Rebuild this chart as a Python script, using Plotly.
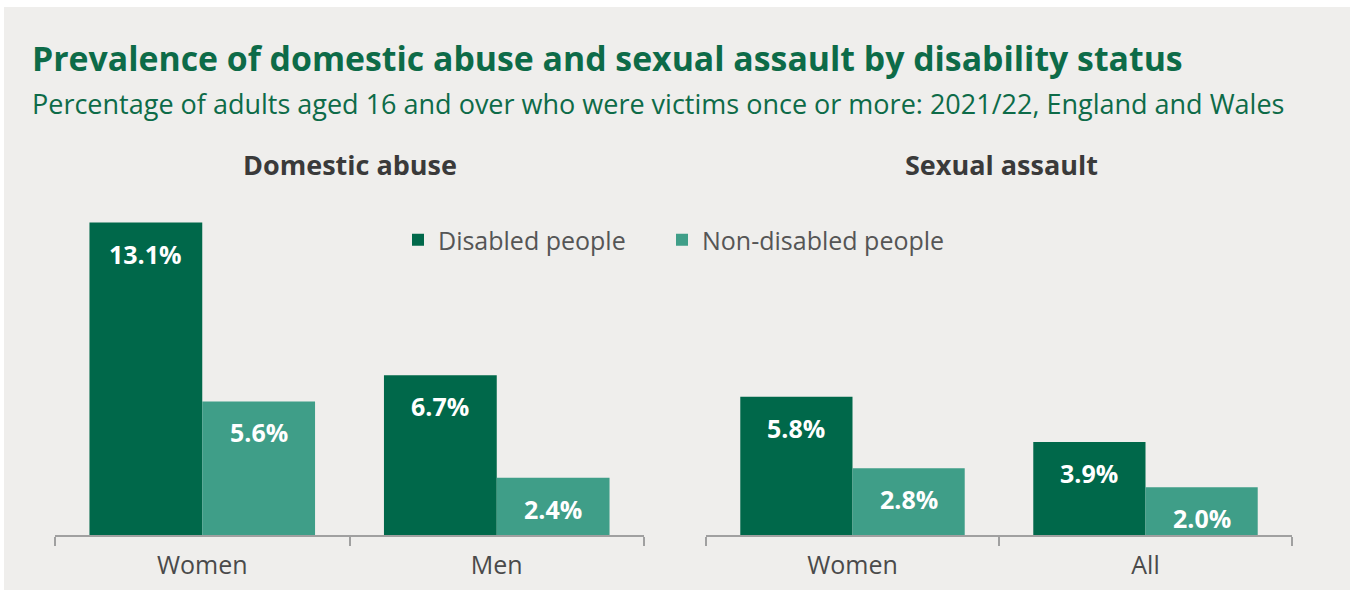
import plotly.graph_objects as go

# Survey figures, % of adults aged 16+ who were victims once or more (2021/22)
domestic_categories = ["Women", "Men"]
domestic_disabled = [13.1, 6.7]
domestic_non_disabled = [5.6, 2.4]

sexual_categories = ["Women", "All"]
sexual_disabled = [5.8, 3.9]
sexual_non_disabled = [2.8, 2.0]

series_names = ["Disabled people", "Non-disabled people"]
panel_titles = ["Domestic abuse", "Sexual assault"]

title_text = "Prevalence of domestic abuse and sexual assault by disability status"
subtitle_text = ("Percentage of adults aged 16 and over who were victims once or more: "
                 "2021/22, England and Wales")

W, H = 1354, 590
DARK = "#00684a"
LIGHT = "#3f9e88"
BG = "#efeeec"
TITLE_GREEN = "#0d6b48"
GREY_TEXT = "#4a4a4a"
FONT = "Open Sans"

fig = go.Figure()

panels = [
    ("x", "y", domestic_categories, domestic_disabled, domestic_non_disabled, True),
    ("x2", "y2", sexual_categories, sexual_disabled, sexual_non_disabled, False),
]
for xa, ya, cats, dis, nondis, show in panels:
    fig.add_trace(go.Bar(x=cats, y=dis, name=series_names[0], marker_color=DARK,
                         marker_line_width=0, xaxis=xa, yaxis=ya, showlegend=show,
                         legend="legend", hoverinfo="skip"))
    fig.add_trace(go.Bar(x=cats, y=nondis, name=series_names[1], marker_color=LIGHT,
                         marker_line_width=0, xaxis=xa, yaxis=ya, showlegend=show,
                         legend="legend2", hoverinfo="skip"))

# value labels just inside the top of each bar
BAR_PX = 113
for xa, ya, cats, dis, nondis, _ in panels:
    for vals, shift in ((dis, -BAR_PX / 2), (nondis, BAR_PX / 2)):
        for c, v in zip(cats, vals):
            fig.add_annotation(x=c, y=v, xref=xa, yref=ya, text=f"<b>{v:.1f}%</b>",
                               showarrow=False, yanchor="top", yshift=-12, xshift=shift,
                               font=dict(family=FONT, size=25, color="white"))

# background panel
fig.add_shape(type="rect", xref="paper", yref="paper",
              x0=4 / W, x1=1350 / W, y0=0, y1=1 - 7 / H,
              fillcolor=BG, line_width=0, layer="below")

def px_x(p):
    return p / W

def px_y(p):
    return 1 - p / H

# titles
fig.add_annotation(xref="paper", yref="paper", x=px_x(30), y=px_y(58), xanchor="left",
                   yanchor="middle", showarrow=False, text=f"<b>{title_text}</b>",
                   font=dict(family=FONT, size=33.8, color=TITLE_GREEN))
fig.add_annotation(xref="paper", yref="paper", x=px_x(30), y=px_y(103), xanchor="left",
                   yanchor="middle", showarrow=False, text=subtitle_text,
                   font=dict(family=FONT, size=27, color=TITLE_GREEN))
for cx, t in zip((350, 1001), panel_titles):
    fig.add_annotation(xref="paper", yref="paper", x=px_x(cx), y=px_y(165), xanchor="center",
                       yanchor="middle", showarrow=False, text=f"<b>{t}</b>",
                       font=dict(family=FONT, size=27, color="#3a3a3a"))

y_bottom = px_y(535)
y_top = px_y(535 - 14 * 23.85)
axis_common = dict(type="category", range=[-0.5, 1.5], showgrid=False, zeroline=False,
                   showline=True, linecolor="#a0a0a0", linewidth=1.5,
                   ticks="outside", tickson="boundaries", ticklen=9, tickwidth=1.5,
                   tickcolor="#a0a0a0", ticklabelstandoff=7, automargin=False,
                   tickfont=dict(family=FONT, size=25, color=GREY_TEXT), fixedrange=True)
yaxis_common = dict(range=[0, 14], visible=False, showgrid=False, zeroline=False,
                    domain=[y_bottom, y_top], fixedrange=True)

legend_common = dict(orientation="h", y=px_y(240), xanchor="left", yanchor="middle",
                     bgcolor="rgba(0,0,0,0)",
                     font=dict(family=FONT, size=25, color="#555555"))

fig.update_layout(
    width=W, height=H,
    margin=dict(l=0, r=0, t=0, b=0),
    paper_bgcolor="white", plot_bgcolor="rgba(0,0,0,0)",
    barmode="group", bargap=0.234, bargroupgap=0,
    xaxis=dict(domain=[px_x(55), px_x(644)], anchor="y", **axis_common),
    xaxis2=dict(domain=[px_x(706), px_x(1292)], anchor="y2", **axis_common),
    yaxis=dict(anchor="x", **yaxis_common),
    yaxis2=dict(anchor="x2", **yaxis_common),
    legend=dict(x=px_x(398), **legend_common),
    legend2=dict(x=px_x(662), **legend_common),
    showlegend=True,
)

fig.write_html("out.html")
